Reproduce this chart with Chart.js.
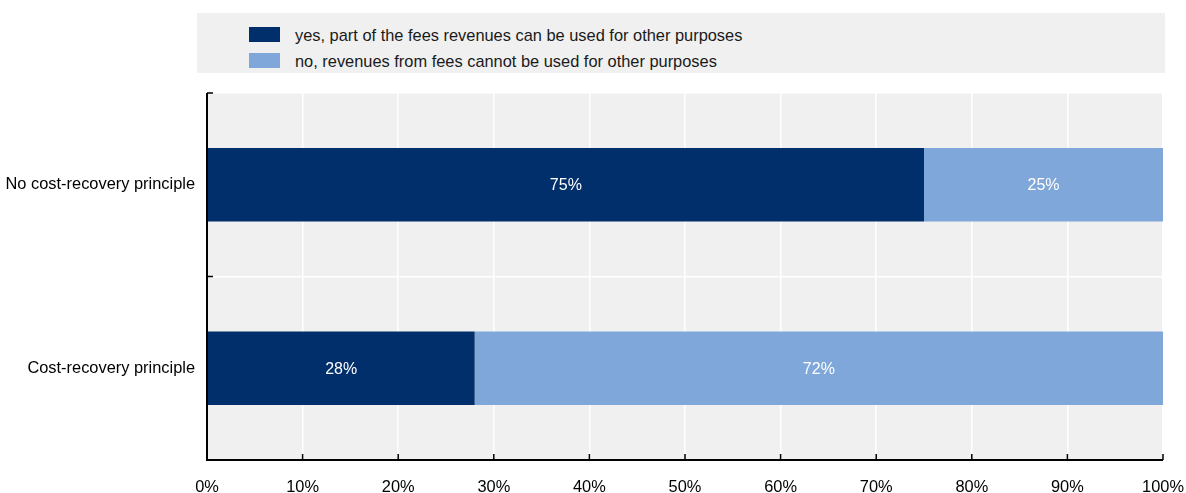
<!DOCTYPE html>
<html>
<head>
<meta charset="utf-8">
<script src="https://cdn.jsdelivr.net/npm/chart.js@4"></script>
<style>
  body { margin: 0; background: #fff; font-family: "Liberation Sans", Arial, sans-serif; }
  #wrap { position: relative; width: 1186px; height: 493px; }
  #legend {
    position: absolute; left: 197px; top: 13px; width: 968px; height: 60px;
    background: #f0f0f0;
  }
  .item { position: absolute; left: 52px; height: 20px; font-size: 16.4px; color: #1a1a1a; line-height: 20px; }
  .item span.box { position: absolute; left: 0; top: 2px; width: 31px; height: 15px; }
  .item span.txt { position: absolute; left: 46px; white-space: nowrap; }
  canvas { position: absolute; left: 0; top: 0; }
</style>
</head>
<body>
<div id="wrap">
  <canvas id="myChart" width="1186" height="493"></canvas>
  <div id="legend"></div>
</div>
<script>
// categories and series
const categories = ["No cost-recovery principle", "Cost-recovery principle"];
const seriesNames = [
  "yes, part of the fees revenues can be used for other purposes",
  "no, revenues from fees cannot be used for other purposes",
];
const yesValues = [75, 28];
const noValues = [25, 72];
const seriesColors = ["#002f6c", "#7fa7d9"];
const xTicks = [0, 10, 20, 30, 40, 50, 60, 70, 80, 90, 100];

const FONT = "'Liberation Sans', Arial, sans-serif";

//build the legend from the dataset names
const legend = document.getElementById("legend");
seriesNames.forEach((name, i) => {
  const div = document.createElement("div");
  div.className = "item";
  div.style.top = (12 + i * 26) + "px";
  div.innerHTML = `<span class="box" style="background:${seriesColors[i]}"></span><span class="txt">${name}</span>`;
  legend.appendChild(div);
});

//gray plot background
const plotBg = {
  id: "plotBg",
  beforeDraw(chart) {
    const { ctx, chartArea: a } = chart;
    ctx.save();
    ctx.fillStyle = "#f0f0f0";
    ctx.fillRect(a.left, a.top, a.right - a.left, a.bottom - a.top);
    ctx.restore();
  },
};

//axis lines with inward ticks
const axisLines = {
  id: "axisLines",
  afterDraw(chart) {
    const { ctx, chartArea: a, scales } = chart;
    ctx.save();
    ctx.strokeStyle = "#000";
    ctx.lineWidth = 2;
    ctx.beginPath();
    ctx.moveTo(a.left, a.top);
    ctx.lineTo(a.left, a.bottom);
    ctx.lineTo(a.right, a.bottom);
    ctx.stroke();
    ctx.lineWidth = 1.5;
    ctx.beginPath();
    xTicks.forEach((v) => {
      const x = scales.x.getPixelForValue(v);
      ctx.moveTo(x, a.bottom);
      ctx.lineTo(x, a.bottom - 6);
    });
    //category boundaries on the y axis
    const n = categories.length;
    for (let i = 0; i <= n; i++) {
      const y = a.top + (a.bottom - a.top) * i / n;
      ctx.moveTo(a.left, y);
      ctx.lineTo(a.left + 6, y);
    }
    ctx.stroke();
    ctx.restore();
  },
};

//value labels in the middle of each bar
const barLabels = {
  id: "barLabels",
  afterDatasetsDraw(chart) {
    const { ctx } = chart;
    ctx.save();
    ctx.fillStyle = "#fff";
    ctx.font = "16px " + FONT;
    ctx.textAlign = "center";
    ctx.textBaseline = "middle";
    chart.data.datasets.forEach((ds, di) => {
      chart.getDatasetMeta(di).data.forEach((bar, i) => {
        const p = bar.getProps(["x", "y", "base"], true);
        ctx.fillText(ds.data[i] + "%", (p.x + p.base) / 2, p.y + 1);
      });
    });
    ctx.restore();
  },
};

new Chart(document.getElementById("myChart").getContext("2d"), {
  type: "bar",
  data: {
    labels: categories,
    datasets: [
      { label: seriesNames[0], data: yesValues, backgroundColor: seriesColors[0] },
      { label: seriesNames[1], data: noValues, backgroundColor: seriesColors[1] },
    ],
  },
  options: {
    indexAxis: "y",
    responsive: false,
    animation: false,
    layout: { padding: { top: 93, right: 23, left: 0, bottom: 0 } },
    datasets: { bar: { categoryPercentage: 1, barPercentage: 0.4 } },
    plugins: { legend: { display: false }, tooltip: { enabled: false } },
    scales: {
      x: {
        stacked: true,
        min: 0,
        max: 100,
        afterBuildTicks(scale) {
          scale.ticks = xTicks.map((v) => ({ value: v }));
        },
        afterFit(scale) {
          scale.height = 33;
          scale.paddingLeft = 0;
          scale.paddingRight = 0;
        },
        grid: { color: "#fff", lineWidth: 1.5, drawTicks: false },
        border: { display: false },
        ticks: {
          padding: 18,
          color: "#000",
          font: { family: FONT, size: 16.4 },
          callback: (v) => v + "%",
          maxRotation: 0,
        },
      },
      y: {
        stacked: true,
        afterFit(scale) { scale.width = 207; },
        grid: { color: "#fff", lineWidth: 1.5, drawTicks: false, offset: true },
        border: { display: false },
        ticks: {
          padding: 12,
          color: "#000",
          font: { family: FONT, size: 16.4 },
        },
      },
    },
  },
  plugins: [plotBg, axisLines, barLabels],
});
</script>
</body>
</html>
